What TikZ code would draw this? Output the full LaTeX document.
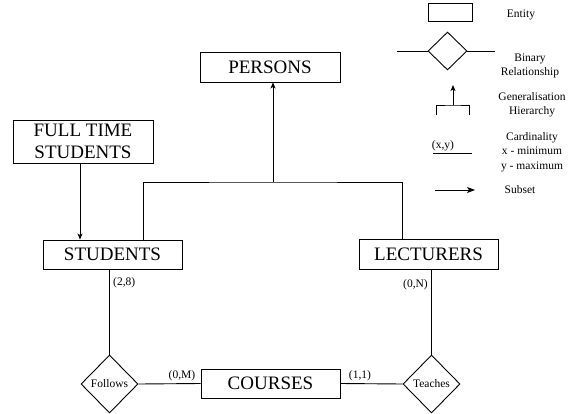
\documentclass[tikz,border=0pt]{standalone}
\usepackage{fontspec}
\setmainfont{Liberation Serif}
\usetikzlibrary{arrows.meta,positioning,shapes.geometric}
\newcommand{\erbig}{\fontsize{19}{22}\selectfont}
\newcommand{\ersmall}{\fontsize{11.5}{14.5}\selectfont}
\tikzset{
 entity/.style={draw, rectangle, line width=0.9pt, minimum width=139pt, minimum height=29pt, inner sep=2pt, align=center, font=\erbig},
 relation/.style={draw, diamond, line width=0.9pt, minimum width=57pt, minimum height=58pt, inner sep=0pt, font=\ersmall},
 link/.style={line width=0.9pt},
 arrow/.style={link, -{Stealth[length=6pt,width=5pt,inset=1.5pt]}},
 card/.style={font=\ersmall, inner sep=1pt},
 legendtext/.style={align=center, font=\ersmall, inner sep=0pt}
}
\begin{document}
\begin{tikzpicture}[x=1pt,y=-1pt]
\useasboundingbox (0,0) rectangle (569,414);
% entities
\node[entity, minimum width=140pt, minimum height=30pt] (persons) at (270,67) {PERSONS};
\node[entity, minimum width=140pt, minimum height=43pt] (fulltime) at (83,141.5) {FULL TIME\\STUDENTS};
\node[entity] (students) at (112.5,254.5) {STUDENTS};
\node[entity, minimum height=30pt] (lecturers) at (428.5,254) {LECTURERS};
\node[entity] (courses) at (270.5,383.5) {COURSES};
% relationships
\node[relation] (follows) at (109.5,384) {Follows};
\node[relation] (teaches) at (431.5,384) {Teaches};
% hierarchy
\coordinate (gen) at (273,182);
\draw[link] ([xshift=30.5pt]students.north) |- (gen) -| ([xshift=-26.5pt]lecturers.north);
\draw[arrow] (gen) -- (gen |- persons.south);
\draw[arrow] ([xshift=-3pt]fulltime.south) -- ([xshift=-3pt]fulltime.south |- students.north);
% relationship links
\draw[link] (follows.north) -- (follows.north |- students.south);
\draw[link] (follows.east) -- (courses.west);
\draw[link] (courses.east) -- (teaches.west);
\draw[link] (teaches.north) -- (teaches.north |- lecturers.south);
% cardinalities
\node[card, anchor=west] (c28) at (112,283) {(2,8)};
\node[card, anchor=east] (c0n) at (429,285) {(0,N)};
\node[card] (c0m) at (182,376) {(0,M)};
\node[card] (c11) at (360,376) {(1,1)};
% legend
\node[draw, rectangle, line width=0.9pt, minimum width=44pt, minimum height=18pt, inner sep=0pt] (lgentity) at (450,12) {};
\node[legendtext] (lgentitytxt) at (521,15) {Entity};
\node[draw, diamond, line width=0.9pt, minimum width=39pt, minimum height=38pt, inner sep=0pt] (lgrel) at (447.5,51) {};
\coordinate (lgrelL) at (397,51);
\coordinate (lgrelR) at (495,51);
\draw[link] (lgrelL) -- (lgrel.west);
\draw[link] (lgrel.east) -- (lgrelR);
\node[legendtext] (lgreltxt) at (530,66) {Binary\\Relationship};
\coordinate (lggen) at (453,105);
\coordinate (lggentop) at (453,85);
\draw[link] (436,115) |- (lggen) -| (469,115);
\draw[arrow] (lggen) -- (lggentop);
\node[legendtext] (lggentxt) at (532,105) {Generalisation\\Hierarchy};
\node[card] (lgxy) at (443,146) {(x,y)};
\coordinate (lgxyL) at (433,153);
\coordinate (lgxyR) at (472,153);
\draw[link] (lgxyL) -- (lgxyR);
\node[legendtext] (lgcardtxt) at (532,152) {Cardinality\\x - minimum\\y - maximum};
\coordinate (lgsubL) at (435,190);
\coordinate (lgsubR) at (475,190);
\draw[link, -{Stealth[length=8pt,width=6pt,inset=2pt]}] (lgsubL) -- (lgsubR);
\node[legendtext] (lgsubtxt) at (520,190) {Subset};
\end{tikzpicture}
\end{document}
